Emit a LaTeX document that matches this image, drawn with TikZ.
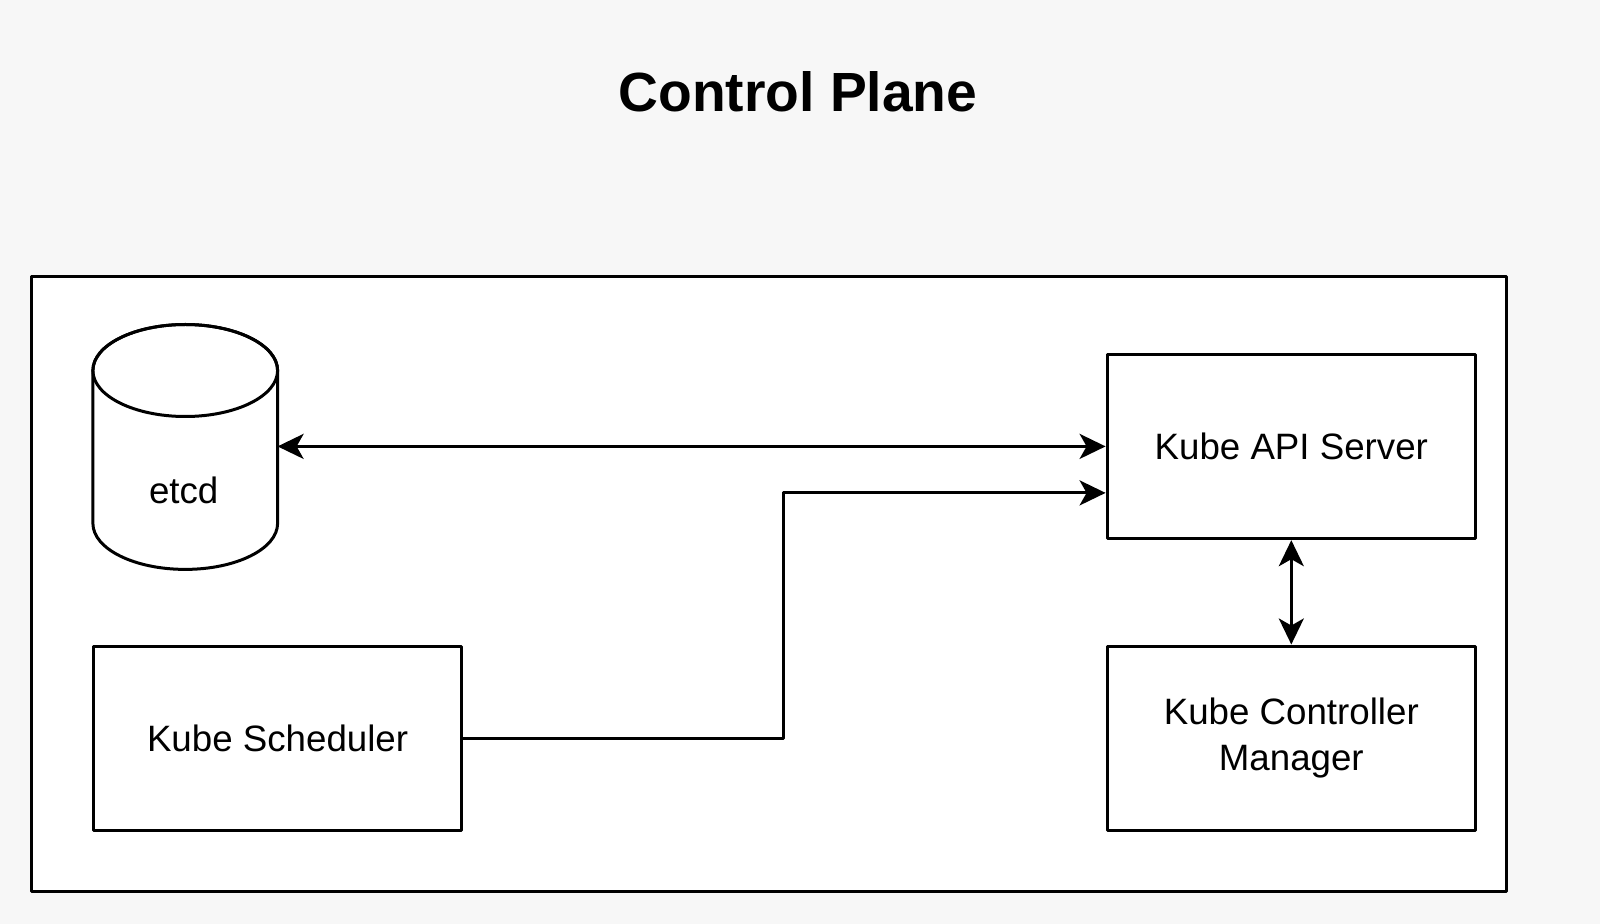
\documentclass[tikz,border=0pt]{standalone}
\usepackage{fontspec}
\setmainfont{Liberation Sans}
\usetikzlibrary{arrows.meta}
\usetikzlibrary{positioning}
\definecolor{pagegrey}{HTML}{F7F7F7}

\tikzset{
  compbox/.style={draw, line width=1.5pt, fill=white, inner sep=0pt,
    minimum width=184.2pt, minimum height=92.3pt, align=center,
    font=\fontsize{18.35}{23}\selectfont},
  link/.style={line width=1.5pt}
}

\begin{document}
\begin{tikzpicture}[line cap=round,line join=round,>={Stealth[length=13pt,width=12.5pt,inset=3.5pt]},x=0.5pt,y=-0.5pt]
\fill [pagegrey] (0,0) rectangle (1600,924);
\draw [line width=1.5pt,fill=white] (31.6,276.5) rectangle (1506,891.8);
\node [font=\fontsize{27.6}{34}\selectfont\bfseries] (title) at (798,92) {Control Plane};
% etcd drum
\draw [link,fill=white] (92.9,370.5) -- (92.9,523.4)
  arc [start angle=180,end angle=360,x radius=46.175pt,y radius=23pt]
  -- (277.6,370.5)
  arc [start angle=0,end angle=180,x radius=46.175pt,y radius=23pt] -- cycle;
\draw [link] (185.25,370.5) ellipse [x radius=46.175pt,y radius=23pt];
\node [font=\fontsize{18.35}{23}\selectfont] (etcd) at (183.7,490.8) {etcd};
\coordinate (etcdside) at (277.6,446.4);
\node [compbox] (api) at (1291.3,446.4) {Kube API Server};
\node [compbox] (ctrl) at (1291.3,738.3) {Kube Controller\\Manager};
\node [compbox] (sched) at (277.6,738.3) {Kube Scheduler};
\coordinate (bend) at (783.7,492.9);
\draw [link,<->] (etcdside) -- (api.west);
\draw [link,->] (sched.east) -| (bend) -- (bend -| api.west);
\draw [link,<->] (api) -- (ctrl);
\end{tikzpicture}
\end{document}
